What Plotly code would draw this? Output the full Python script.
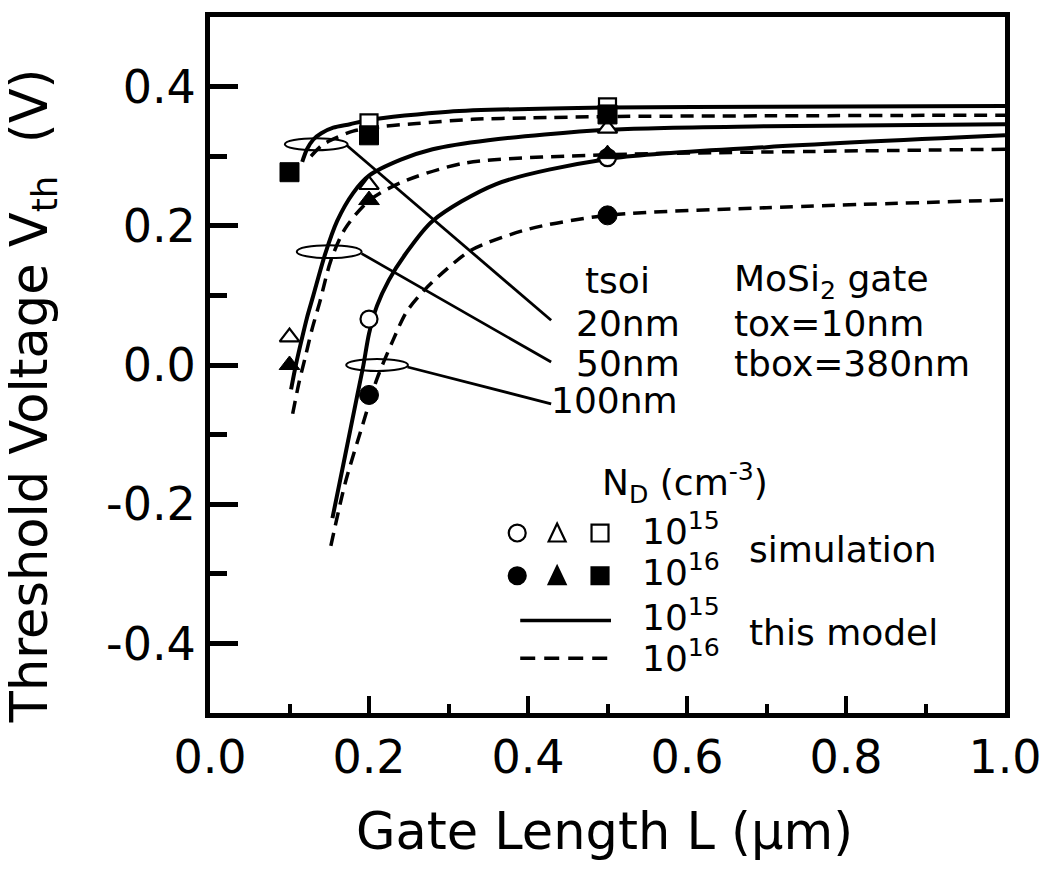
import plotly.graph_objects as go

# ---------------- data ----------------
# model curves, N_D = 1e15 (solid) and 1e16 (dashed), for tsoi = 20, 50, 100 nm
L_20_N15 = [0.116, 0.122, 0.13, 0.14, 0.155, 0.176, 0.2, 0.3, 0.5, 0.7, 1.0]
V_20_N15 = [0.292, 0.310, 0.324, 0.333, 0.341, 0.346, 0.352, 0.364, 0.370, 0.371, 0.372]
L_20_N16 = [0.127, 0.14, 0.152, 0.18, 0.22, 0.26, 0.33, 0.4, 0.5, 0.7, 1.0]
V_20_N16 = [0.300, 0.315, 0.323, 0.336, 0.343, 0.347, 0.353, 0.355, 0.357, 0.358, 0.359]

L_50_N15 = [0.102, 0.108, 0.115, 0.122, 0.13, 0.145, 0.16, 0.18, 0.2, 0.24, 0.28, 0.35, 0.5, 0.7, 1.0]
V_50_N15 = [-0.035, 0.000, 0.035, 0.068, 0.100, 0.160, 0.207, 0.247, 0.272, 0.295, 0.310, 0.323, 0.338, 0.343, 0.346]
L_50_N16 = [0.104, 0.112, 0.12, 0.128, 0.138, 0.152, 0.17, 0.2, 0.24, 0.32, 0.5, 0.7, 1.0]
V_50_N16 = [-0.070, -0.025, 0.012, 0.050, 0.090, 0.150, 0.196, 0.236, 0.262, 0.290, 0.302, 0.306, 0.310]

L_100_N15 = [0.154, 0.17, 0.185, 0.193, 0.2, 0.21, 0.225, 0.245, 0.28, 0.36, 0.5, 0.7, 1.0]
V_100_N15 = [-0.220, -0.130, -0.045, 0.000, 0.045, 0.085, 0.122, 0.158, 0.207, 0.260, 0.296, 0.313, 0.330]
L_100_N16 = [0.152, 0.17, 0.192, 0.21, 0.23, 0.247, 0.27, 0.3, 0.33, 0.4, 0.5, 0.7, 1.0]
V_100_N16 = [-0.260, -0.170, -0.086, -0.020, 0.035, 0.076, 0.108, 0.140, 0.166, 0.195, 0.215, 0.226, 0.237]

# simulation points
SIM_L_100_N15 = [0.2, 0.5]
SIM_V_100_N15 = [0.066, 0.298]
SIM_L_100_N16 = [0.2, 0.5]
SIM_V_100_N16 = [-0.043, 0.215]
SIM_L_50_N15 = [0.1, 0.2, 0.5]
SIM_V_50_N15 = [0.040, 0.259, 0.340]
SIM_L_50_N16 = [0.1, 0.2, 0.5]
SIM_V_50_N16 = [0.000, 0.237, 0.303]
SIM_L_20_N15 = [0.2, 0.5]
SIM_V_20_N15 = [0.348, 0.371]
SIM_L_20_N16 = [0.1, 0.2, 0.5]
SIM_V_20_N16 = [0.277, 0.330, 0.360]

X_TICKS = [0.0, 0.2, 0.4, 0.6, 0.8, 1.0]
X_TICK_LABELS = ["0.0", "0.2", "0.4", "0.6", "0.8", "1.0"]
X_MINOR = [0.1, 0.3, 0.5, 0.7, 0.9]
Y_TICKS = [-0.4, -0.2, 0.0, 0.2, 0.4]
Y_TICK_LABELS = ["-0.4", "-0.2", "0.0", "0.2", "0.4"]
Y_MINOR = [-0.3, -0.1, 0.1, 0.3]

# ---------------- layout geometry ----------------
W, H = 1054, 875
ML, MR, MT, MB = 210, 47, 13, 162
PW, PH = W - ML - MR, H - MT - MB
FONT = "DejaVu Sans"


def dx(px):
    return (px - ML) / PW


def dy(py):
    return 0.5 - (py - MT) / PH


fig = go.Figure()

solid = dict(color="black", width=4)
dashed = dict(color="black", width=3.5, dash="13px,8px")

for L, V, ln in [
    (L_20_N15, V_20_N15, solid), (L_20_N16, V_20_N16, dashed),
    (L_50_N15, V_50_N15, solid), (L_50_N16, V_50_N16, dashed),
    (L_100_N15, V_100_N15, solid), (L_100_N16, V_100_N16, dashed),
]:
    fig.add_trace(go.Scatter(x=L, y=V, mode="lines", line=dict(shape="spline", smoothing=0.8, **ln),
                             showlegend=False, hoverinfo="skip"))

open_m = dict(color="white", line=dict(color="black", width=2.2))
fill_m = dict(color="black", line=dict(color="black", width=1))
for L, V, sym, sz, m in [
    (SIM_L_100_N15, SIM_V_100_N15, "circle", 17, open_m),
    (SIM_L_50_N15, SIM_V_50_N15, "triangle-up", 17, open_m),
    (SIM_L_20_N15, SIM_V_20_N15, "square", 17, open_m),
    (SIM_L_100_N16, SIM_V_100_N16, "circle", 19, fill_m),
    (SIM_L_50_N16, SIM_V_50_N16, "triangle-up", 18, fill_m),
    (SIM_L_20_N16, SIM_V_20_N16, "square", 19, fill_m),
]:
    fig.add_trace(go.Scatter(x=L, y=V, mode="markers", marker=dict(symbol=sym, size=sz, **m),
                             showlegend=False, hoverinfo="skip"))

shapes = []
# ellipses + leader lines for tsoi labels (pixel positions)
for (cx, cy, hw, hh, lx0, ly0, lx1, ly1) in [
    (316.5, 141, 31.5, 6, 347, 142, 552, 318),
    (329.5, 249, 32.5, 6.5, 362, 251, 552, 360),
    (377.5, 363, 31, 6, 408, 365, 552, 402),
]:
    shapes.append(dict(type="circle", xref="x", yref="y", x0=dx(cx - hw), x1=dx(cx + hw),
                       y0=dy(cy + hh), y1=dy(cy - hh), line=dict(color="black", width=2)))
    shapes.append(dict(type="line", xref="x", yref="y", x0=dx(lx0), y0=dy(ly0), x1=dx(lx1), y1=dy(ly1),
                       line=dict(color="black", width=2.8)))

# legend keys
def circ(cx, cy, r, fill):
    return dict(type="circle", xref="x", yref="y", x0=dx(cx - r), x1=dx(cx + r), y0=dy(cy + r), y1=dy(cy - r),
                fillcolor=fill, line=dict(color="black", width=2.2))


def sq(cx, cy, r, fill):
    return dict(type="rect", xref="x", yref="y", x0=dx(cx - r), x1=dx(cx + r), y0=dy(cy + r), y1=dy(cy - r),
                fillcolor=fill, line=dict(color="black", width=2.2))


def tri(cx, cy, r, fill):
    p = [(cx, cy - r - 1), (cx - r, cy + r), (cx + r, cy + r)]
    path = "M {} {} L {} {} L {} {} Z".format(*(v for (a, b) in p for v in (dx(a), dy(b))))
    return dict(type="path", xref="x", yref="y", path=path, fillcolor=fill, line=dict(color="black", width=2.2))


for cy, fill in [(532, "white"), (575, "black")]:
    shapes.append(circ(518, cy, 8.5, fill))
    shapes.append(tri(558, cy, 8.5, fill))
    shapes.append(sq(601, cy, 8.5, fill))
shapes.append(dict(type="line", xref="x", yref="y", x0=dx(521), x1=dx(612), y0=dy(620), y1=dy(620),
                   line=dict(color="black", width=3.5)))
shapes.append(dict(type="line", xref="x", yref="y", x0=dx(521), x1=dx(612), y0=dy(658), y1=dy(658),
                   line=dict(color="black", width=3.5, dash="15px,9px")))

ann = []


def txt(px, py, s, size=36, anchor="left"):
    ann.append(dict(x=dx(px), y=dy(py), xref="x", yref="y", text=s, showarrow=False, xanchor=anchor,
                    yanchor="middle", font=dict(family=FONT, size=size, color="black")))


txt(619, 278, "tsoi", anchor="center")
txt(575, 321, "20nm")
txt(575, 361, "50nm")
txt(550, 399, "100nm")
txt(733, 279, "MoSi<sub>2</sub> gate")
txt(733, 321, "tox=10nm")
txt(733, 361, "tbox=380nm")
txt(601, 482, "N<sub>D</sub> (cm<sup>-3</sup>)")
txt(641, 528, "10<sup>15</sup>")
txt(641, 569, "10<sup>16</sup>")
txt(641, 614, "10<sup>15</sup>")
txt(641, 656, "10<sup>16</sup>")
txt(748, 549, "simulation")
txt(748, 632, "this model")

# axis titles
ann.append(dict(x=(32 - ML) / PW, y=(H - MB - 394) / PH, xref="paper", yref="paper",
                text="Threshold Voltage V<sub>th</sub>  (V)", textangle=-90, showarrow=False,
                xanchor="center", yanchor="middle", font=dict(family=FONT, size=51, color="black")))
ann.append(dict(x=(605 - ML) / PW, y=(H - MB - 832) / PH, xref="paper", yref="paper",
                text="Gate Length L (µm)", showarrow=False,
                xanchor="center", yanchor="middle", font=dict(family=FONT, size=51, color="black")))

fig.update_layout(
    width=W, height=H, autosize=False,
    margin=dict(l=ML, r=MR, t=MT, b=MB),
    paper_bgcolor="white", plot_bgcolor="white",
    shapes=shapes, annotations=ann,
    font=dict(family=FONT, color="black"),
)
fig.update_xaxes(range=[0, 1], showgrid=False, zeroline=False, showline=True, linewidth=5, linecolor="black",
                 mirror=True, ticks="inside", ticklen=17, tickwidth=4, tickcolor="black",
                 tickvals=X_TICKS, ticktext=X_TICK_LABELS, tickfont=dict(family=FONT, size=46),
                 minor=dict(tickvals=X_MINOR, ticks="inside", ticklen=9, tickwidth=4, tickcolor="black",
                            showgrid=False))
fig.update_yaxes(range=[-0.5, 0.5], showgrid=False, zeroline=False, showline=True, linewidth=5, linecolor="black",
                 mirror=True, ticks="inside", ticklen=28, tickwidth=5, tickcolor="black",
                 tickvals=Y_TICKS, ticktext=Y_TICK_LABELS, tickfont=dict(family=FONT, size=46),
                 minor=dict(tickvals=Y_MINOR, ticks="inside", ticklen=17, tickwidth=5, tickcolor="black",
                            showgrid=False))

fig.write_html("out.html")
